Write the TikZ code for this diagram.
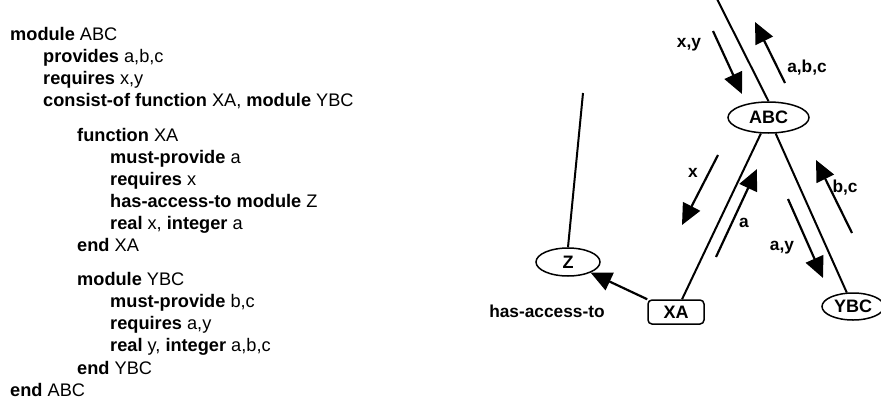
\documentclass[tikz,border=0pt]{standalone}
\usepackage{fontspec}
\setmainfont{Liberation Sans}
\usetikzlibrary{arrows.meta,shapes.geometric}

\tikzset{
  code/.style={anchor=base west, inner sep=0pt, font=\fontsize{18.2}{22}\selectfont},
  modnode/.style={ellipse, draw, line width=1.5pt, inner sep=0pt,
    font=\fontsize{18}{21}\selectfont\bfseries},
  funnode/.style={rectangle, rounded corners=4pt, draw, line width=1.5pt, inner sep=0pt,
    minimum width=56pt, minimum height=24pt, font=\fontsize{18}{21}\selectfont\bfseries},
  link/.style={line width=2pt},
  flow/.style={line width=2.2pt, -{Triangle[length=21pt,width=19pt]}},
  flowlabel/.style={inner sep=0pt, font=\fontsize{17.3}{20}\selectfont\bfseries}
}

\begin{document}
\begin{tikzpicture}[x=1pt,y=-1pt]
\useasboundingbox (0,0) rectangle (881,402);

% ---- textual specification ----
\node[code] (m1)  at (10,40)    {\textbf{module} ABC};
\node[code] (m2)  at (43,62)    {\textbf{provides} a,b,c};
\node[code] (m3)  at (43,84)    {\textbf{requires} x,y};
\node[code] (m4)  at (43,106.5) {\textbf{consist-of function} XA, \textbf{module} YBC};

\node[code] (f1)  at (77,141)   {\textbf{function} XA};
\node[code] (f2)  at (110,163)  {\textbf{must-provide} a};
\node[code] (f3)  at (110,185)  {\textbf{requires} x};
\node[code] (f4)  at (110,207)  {\textbf{has-access-to module} Z};
\node[code] (f5)  at (110,229)  {\textbf{real} x, \textbf{integer} a};
\node[code] (f6)  at (77,251.5) {\textbf{end} XA};

\node[code] (y1)  at (77,285)   {\textbf{module} YBC};
\node[code] (y2)  at (110,307)  {\textbf{must-provide} b,c};
\node[code] (y3)  at (110,329)  {\textbf{requires} a,y};
\node[code] (y4)  at (110,351.5){\textbf{real} y, \textbf{integer} a,b,c};
\node[code] (y5)  at (77,374)   {\textbf{end} YBC};
\node[code] (m5)  at (10,396)   {\textbf{end} ABC};

% ---- structure graph ----
\node[modnode, minimum width=81pt, minimum height=31pt] (ABC) at (768.5,117.5) {ABC};
\node[funnode] (XA) at (676,312) {XA};
\node[modnode, minimum width=62pt, minimum height=27pt] (YBC) at (853,306.5) {YBC};
\node[modnode, minimum width=64pt, minimum height=28pt] (Z) at (568,262) {Z};

\coordinate (topend) at (716,-3);
\coordinate (zend) at (583,93);

\draw[link] (topend) -- (ABC.north);
\draw[link] (ABC) -- (XA);
\draw[link] (ABC) -- (YBC);
\draw[link] (zend) -- (Z.north);
\draw[flow] (XA.north west) -- (Z);

% data flow arrows
\coordinate (xy0) at (713,31);   \coordinate (xy1) at (742,94);
\coordinate (abc0) at (785,83);  \coordinate (abc1) at (755,22);
\coordinate (x0) at (718,155);   \coordinate (x1) at (682,225);
\coordinate (a0) at (716,257);   \coordinate (a1) at (757,169);
\coordinate (bc0) at (852,233);  \coordinate (bc1) at (816,160);
\coordinate (ay0) at (788,199);  \coordinate (ay1) at (823,278);

\draw[flow] (xy0) -- (xy1);
\draw[flow] (abc0) -- (abc1);
\draw[flow] (x0) -- (x1);
\draw[flow] (a0) -- (a1);
\draw[flow] (bc0) -- (bc1);
\draw[flow] (ay0) -- (ay1);

\node[flowlabel] (lxy)  at (689,45)  {x,y};
\node[flowlabel] (labc) at (807,68)  {a,b,c};
\node[flowlabel] (lx)   at (693,173) {x};
\node[flowlabel] (la)   at (744,223) {a};
\node[flowlabel] (lbc)  at (845,188) {b,c};
\node[flowlabel] (lay)  at (782,248) {a,y};
\node[flowlabel] (lhas) at (547,311) {has-access-to};
\end{tikzpicture}
\end{document}
